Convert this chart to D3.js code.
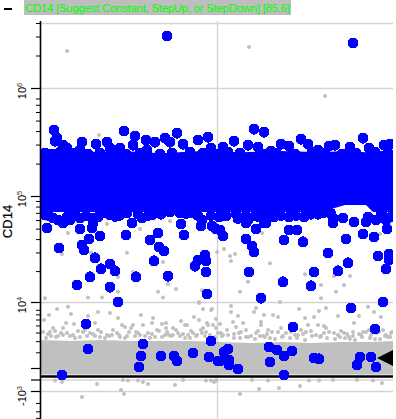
<!DOCTYPE html>
<html><head><meta charset="utf-8">
<script src="https://cdnjs.cloudflare.com/ajax/libs/d3/7.8.5/d3.min.js"></script>
<style>html,body{margin:0;padding:0;background:#fff}svg{display:block}</style>
</head><body><svg id="c" width="396" height="419"></svg>
<script>
const titleText = "CD14 [Suggest Constant, StepUp, or StepDown] [85.6]";
const yLabel = "CD14";
const majorTicks = [-1000, 0, 1000, 10000, 100000, 1000000];
const minorTicks = [-4000,-3000,-2000,2000,3000,4000,5000,6000,7000,8000,20000,30000,40000,50000,60000,70000,80000,90000,200000,300000,400000,500000,600000,700000,800000,2000000,3000000,4000000];
const tickLabels = [[1000000,"","10","6"],[100000,"","10","5"],[10000,"","10","4"],[-1000,"-","10","3"]];
const gridY = [4000000, 1000000, 100000, 10000, 0, -1000];
const gridX = [176];
const gateValue = 200;
const markerValue = 1590;

// dense blue population envelope [time, upper, lower]
const blueCoreTime  = [0,40,80,120,160,200,240,280,304,325,332,352];
const blueCoreUpper = [261000,255000,261000,250000,261000,255000,261000,255000,261000,255000,261000,261000];
const blueCoreLower = [71300,71300,71300,71300,71300,71300,71300,71300,82700,82700,71300,71300];

// dense gray population envelope
const grayCoreTime  = [0,30,60,90,120,150,180,210,240,270,300,330,352];
const grayCoreUpper = [3120,3020,3120,3020,3020,3020,2920,2820,2920,2820,2920,2920,3020];
const grayCoreLower = [350,350,350,350,350,350,350,350,350,350,350,350,350];

const blueOutliersHigh = [[126,3030000],[312,2610000]];
const blueUpperEdge = [[13,408000],[14,323000],[16,344000],[22,296000],[26,278000],[41,316000],[55,303000],[66,316000],[83,400000],[94,359000],[92,296000],[105,330000],[114,316000],[124,344000],[136,383000],[129,316000],[142,303000],[157,330000],[167,351000],[79,278000],[69,278000],[39,267000],[106,267000],[213,417000],[223,391000],[193,323000],[182,284000],[207,296000],[217,284000],[230,261000],[240,303000],[248,290000],[260,337000],[267,303000],[277,267000],[288,290000],[294,296000],[309,284000],[322,344000],[328,278000],[343,296000],[349,303000],[170,278000]];
const blueUpperFill = [[4,250000],[11,245000],[19,255000],[31,250000],[47,245000],[59,250000],[74,255000],[85,245000],[99,250000],[119,245000],[131,250000],[149,255000],[162,250000],[174,245000],[187,255000],[199,250000],[224,245000],[235,250000],[254,245000],[271,255000],[284,250000],[301,245000],[315,250000],[334,255000],[347,250000]];
const blueLowerEdge = [[4,66900],[12,62800],[17,60100],[22,56400],[29,60100],[39,62800],[51,62800],[52,56400],[69,66900],[86,69800],[91,56400],[101,62800],[111,66900],[129,71300],[139,69800],[149,69800],[161,60100],[185,65500],[207,60100],[218,64100],[225,56400],[248,64100],[263,64100],[282,69800],[292,62800],[302,62800],[313,57600],[325,57600],[335,60100],[345,60100],[327,64100],[350,64100]];
const blueLowerFill = [[8,66000],[34,68000],[45,66000],[60,69000],[78,66000],[97,68000],[120,68000],[145,69000],[170,66000],[195,68000],[205,66000],[225,68000],[240,66000],[270,68000],[290,69000],[340,68000],[26,64000],[57,64000],[74,65000],[107,66000],[157,66000],[178,64000],[197,62000],[214,66000],[233,64000],[255,66000],[277,68000],[342,66000]];
const blueScatter = [[6,50700],[18,33000],[39,49600],[51,50700],[59,42800],[85,43700],[117,45600],[109,39300],[140,55200],[143,43700],[118,33700],[123,31000],[113,25000],[48,40100],[41,35200],[43,31600],[54,26700],[69,23300],[60,21000],[74,20100],[49,17600],[36,14700],[69,14000],[95,17600],[127,17900],[77,10000],[164,28400],[165,25000],[157,25500],[154,22300],[165,19600],[166,12000],[160,53000],[171,53000],[175,49600],[179,48600],[182,42800],[205,40100],[211,34500],[213,30300],[243,39300],[262,37700],[287,29600],[305,40100],[322,44600],[333,41900],[346,49600],[337,27800],[348,29000],[348,25500],[307,24000],[297,20100],[273,19600],[208,19600],[242,15800],[270,14400],[345,21000],[220,10900],[342,10000],[215,49600],[248,48600],[256,48600],[292,56400],[205,56400],[223,56400],[310,8420]];
const blueLow = [[45,5240],[47,2270],[21,312],[102,2720],[100,1730],[98,1050],[120,1730],[133,1730],[136,1400],[152,1940],[168,1660],[170,3020],[177,1400],[179,1400],[183,2020],[187,2270],[188,1460],[188,1160],[197,880],[252,4770],[228,2440],[236,2180],[243,1730],[251,2100],[229,1330],[243,312],[273,1590],[278,1530],[316,1160],[319,1660],[330,1660],[335,1050],[334,4470]];

const grayHigh = [[26,2200000],[208,2400000],[284,843000],[58,367000],[5,61000],[27,45600],[21,29000],[50,29800],[66,55200],[74,60100],[86,29800],[99,49600],[129,58900],[122,24400],[92,19600],[77,17600],[127,15000],[135,13400],[77,12600],[117,12600],[122,11100],[4,10900],[47,11100],[61,11100],[158,10000],[161,13100],[176,30300],[183,32300],[189,27800],[194,29000],[190,25000],[229,23800],[207,15800],[199,12600],[264,18700],[293,17900],[309,17900],[280,14700],[303,14700],[295,12600],[280,10900],[239,10000],[221,45600],[339,44600]];
const grayMid = [[16,8180],[27,8720],[8,6850],[30,7060],[3,5900],[25,5400],[33,5240],[47,6650],[57,7480],[69,7270],[77,6270],[100,6850],[112,6270],[111,5400],[125,5400],[140,5730],[153,6460],[162,8180],[158,9690],[171,8180],[158,5900],[166,5400],[146,5070],[2,4070],[12,4620],[9,4070],[22,4620],[17,3570],[26,3940],[54,5400],[57,4330],[42,4070],[49,3940],[66,3690],[81,5070],[84,4770],[88,4070],[76,3940],[92,5070],[102,5070],[97,3940],[116,4330],[121,5240],[126,4070],[132,4620],[137,3940],[144,5070],[152,3940],[162,4620],[172,5070],[177,3940],[121,3460],[132,3690],[161,3940],[107,3940],[170,7930],[190,8950],[190,7480],[197,6650],[213,7480],[215,8420],[223,6850],[220,5560],[232,6850],[237,6460],[258,8180],[278,7700],[285,8420],[264,6270],[273,6460],[297,6650],[318,6650],[327,8720],[333,7480],[340,6460],[313,5400],[167,5070],[175,6080],[179,5240],[192,5560],[202,5400],[195,4770],[220,5070],[198,3940],[180,3940],[267,5070],[277,5070],[283,4920],[265,4070],[312,4070],[325,4070],[342,4330],[350,3940],[227,4330],[237,4070],[245,3940],[215,3940],[283,3940],[293,3940],[303,3940],[335,3940],[207,3460],[257,3690],[275,3690],[308,3460],[320,3690],[347,3460]];
const grayShoulder = [[7,3810],[20,3940],[32,3690],[37,4200],[52,3810],[60,4070],[72,4330],[78,3690],[86,3570],[95,4070],[104,3570],[118,4200],[128,3690],[135,4330],[142,3810],[150,4200],[155,3570],[165,4070],[169,3690],[182,3690],[186,4330],[200,4070],[210,3570],[217,4200],[226,3810],[231,4070],[242,3570],[250,4070],[254,3690],[262,3810],[270,4200],[280,3570],[288,4070],[297,3690],[306,3810],[312,3570],[322,4070],[330,3690],[338,4070],[345,3690],[351,4070],[14,4200],[44,4330],[68,3570],[90,4620],[111,3810],[125,4620],[147,3690],[160,4330],[175,4620],[193,3810],[205,4330],[222,3570],[240,4620],[260,4330],[285,4620],[300,4200],[318,3810],[328,4330]];
const grayTopEdge = [[5,3340],[15,3460],[29,3570],[39,3460],[54,3570],[64,3340],[71,3690],[79,3460],[94,3570],[109,3340],[124,3690],[139,3570],[149,3340],[164,3570],[174,3460],[187,3690],[199,3340],[214,3230],[224,3460],[234,3230],[249,3340],[264,3120],[279,3460],[294,3230],[304,3340],[314,3120],[329,3340],[339,3230],[349,3460],[10,3570],[22,3690],[34,3340],[46,3570],[59,3460],[84,3340],[99,3690],[114,3460],[130,3570],[144,3340],[156,3690],[169,3460],[181,3570],[193,3340],[205,3460],[219,3570],[229,3340],[241,3460],[256,3340],[271,3570],[286,3340],[299,3460],[309,3230],[321,3460],[334,3230],[344,3570]];
const grayBelow = [[14,-60],[21,-162],[56,-312],[41,-1455],[80,-884],[83,-1213],[82,-30],[87,-60],[102,-162],[107,-312],[97,-60],[134,-392],[142,-30],[165,-60],[174,-94],[175,-60],[170,-60],[199,-1213],[218,-774],[238,-667],[259,-479],[211,-30],[227,-60],[268,-60],[278,-60],[292,-30],[316,-30],[332,-60],[341,-235],[173,-162]];

const GRAY = "#c0c0c0", BLUE = "#0000ff", GRID = "#d4d4d4";
const x = d3.scaleLinear().domain([0,352]).range([41,393]);
const y = d3.scaleSymlog().constant(1000)
  .domain([-10000,-1000,0,1000,10000,100000,1000000,10000000])
  .range([441,391,379.5,368,302,196,88,-20]);

const svg = d3.select("#c");
const defs = svg.append("defs");
defs.append("clipPath").attr("id","plot").append("rect").attr("x",41).attr("y",21).attr("width",352).attr("height",398);
defs.append("clipPath").attr("id","ax").append("rect").attr("x",0).attr("y",21).attr("width",43).attr("height",398);

// header
svg.append("rect").attr("x",4).attr("y",8).attr("width",8).attr("height",2).attr("fill","#000");
svg.append("rect").attr("x",24).attr("y",0).attr("width",267).attr("height",15).attr("fill","#bebebe");
svg.append("text").attr("x",25).attr("y",12).attr("fill","#00ff00")
  .attr("font-family","'Liberation Sans',sans-serif").attr("font-size",11.5).attr("textLength",265).attr("lengthAdjust","spacing").text(titleText);

const plot = svg.append("g").attr("clip-path","url(#plot)");
plot.selectAll("line.gy").data(gridY).join("line").attr("class","gy")
  .attr("x1",41).attr("x2",393).attr("y1",d=>y(d)+.5).attr("y2",d=>y(d)+.5).attr("stroke",GRID).attr("stroke-width",1.4);
plot.selectAll("line.gx").data(gridX).join("line").attr("class","gx")
  .attr("x1",d=>x(d)+.5).attr("x2",d=>x(d)+.5).attr("y1",21).attr("y2",419).attr("stroke",GRID).attr("stroke-width",1.4);

const band = (t,u,l)=>d3.area().x((_,i)=>x(t[i])).y0((_,i)=>y(l[i])).y1((_,i)=>y(u[i]))(t);
const dots = (data,r,c,crisp)=>plot.append("g").attr("shape-rendering",crisp?"crispEdges":"auto").selectAll("circle").data(data).join("circle")
  .attr("cx",d=>x(d[0])).attr("cy",d=>y(d[1])).attr("r",r).attr("fill",c);

plot.append("path").attr("d",band(grayCoreTime,grayCoreUpper,grayCoreLower)).attr("fill",GRAY);
[grayHigh,grayMid,grayShoulder,grayTopEdge,grayBelow].forEach(a=>dots(a,2,GRAY,false));

plot.append("line").attr("x1",x(0)).attr("x2",x(352)).attr("y1",y(gateValue)).attr("y2",y(gateValue)).attr("stroke","#000").attr("stroke-width",2.4);

plot.append("path").attr("d",band(blueCoreTime,blueCoreUpper,blueCoreLower)).attr("fill",BLUE);
[blueOutliersHigh,blueUpperEdge,blueUpperFill,blueLowerEdge,blueLowerFill,blueScatter,blueLow].forEach(a=>dots(a,5.5,BLUE,true));

// gate marker
const mx = x(352), my = y(markerValue);
plot.append("path").attr("d",d3.line()([[mx-16,my],[mx,my-8],[mx,my+8]])+"Z").attr("fill","#000");

// axis
const axisG = svg.append("g").attr("clip-path","url(#ax)");
const major = d3.axisLeft(y).tickValues(majorTicks).tickSize(9).tickFormat("").tickSizeOuter(0);
const minor = d3.axisLeft(y).tickValues(minorTicks).tickSize(4).tickFormat("").tickSizeOuter(0);
const g1 = axisG.append("g").attr("transform","translate(40,0)").call(major);
const g2 = axisG.append("g").attr("transform","translate(40,0)").call(minor);
g1.selectAll(".domain").attr("stroke","#000").attr("stroke-width",1.6);
g2.select(".domain").remove();
g1.selectAll(".tick line").attr("stroke-width",1.2);

const labels = svg.append("g").attr("font-family","'Liberation Sans',sans-serif");
tickLabels.forEach(([v,pre,base,sup])=>{
  const py = y(v) + (v<0?5:3);
  const t = labels.append("text").attr("transform",`translate(26,${py}) rotate(-90)`).attr("text-anchor","middle").attr("font-size",11).attr("fill","#000");
  t.append("tspan").text(pre+base);
  t.append("tspan").attr("font-size",7.5).attr("dy",-4).attr("fill","#333").text(sup);
});
svg.append("text").attr("transform","translate(12,221.5) rotate(-90)").attr("text-anchor","middle")
  .attr("font-family","'Liberation Sans',sans-serif").attr("font-size",13).attr("fill","#000").attr("stroke","#000").attr("stroke-width",0.2).text(yLabel);
</script></body></html>
